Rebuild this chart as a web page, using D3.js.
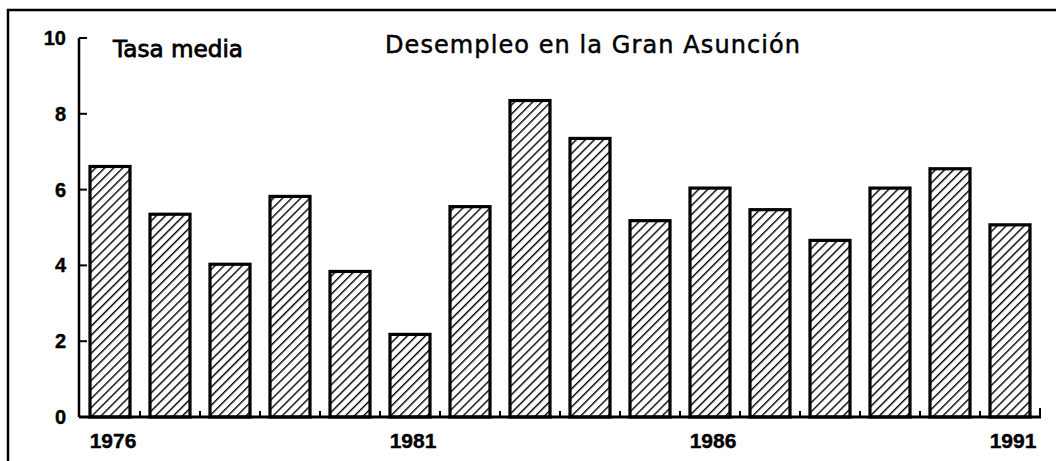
<!doctype html>
<html>
  <head>
    <meta charset="utf-8">
    <title>Desempleo en la Gran Asunción</title>
    <script src="https://cdnjs.cloudflare.com/ajax/libs/d3/7.8.5/d3.min.js"></script>
    <style>
      body { margin: 0; background: #fff; }
      text { font-family: "Liberation Sans", Arial, sans-serif; fill: #000; }
      text.head { font-family: "DejaVu Sans", sans-serif; }
    </style>
  </head>
  <body>
    <div id="chart"></div>
    <script>

      // data
      const years = ['1976','1977','1978','1979','1980','1981','1982','1983',
                     '1984','1985','1986','1987','1988','1989','1990','1991'];
      const rates = [6.61, 5.35, 4.03, 5.82, 3.84, 2.18, 5.55, 8.35,
                     7.35, 5.18, 6.04, 5.47, 4.66, 6.04, 6.55, 5.07];
      const yTicks = [0, 2, 4, 6, 8, 10];
      const yearLabels = ['1976', '1981', '1986', '1991'];

      const W = 1056, H = 461;

      const svg = d3.select('#chart')
        .append('svg')
        .attr('width', W)
        .attr('height', H);

      // hatch fill
      const defs = svg.append('defs');
      defs.append('pattern')
        .attr('id', 'hatch')
        .attr('patternUnits', 'userSpaceOnUse')
        .attr('width', 6.4)
        .attr('height', 6.4)
        .attr('patternTransform', 'rotate(45)')
        .append('line')
          .attr('x1', 0).attr('y1', 0)
          .attr('x2', 0).attr('y2', 6.4)
          .attr('stroke', '#000')
          .attr('stroke-width', 2.8);

      // outer frame (top + left only)
      svg.append('path')
        .attr('d', 'M8,461 L8,10 L1056,10')
        .attr('fill', 'none')
        .attr('stroke', '#000')
        .attr('stroke-width', 2.5);

      const x = d3.scaleBand()
        .domain(years)
        .range([80, 1040])
        .paddingInner(1/3)
        .paddingOuter(1/6);

      const y = d3.scaleLinear()
        .domain([0, 10])
        .range([417, 38]);

      // bars
      svg.selectAll('rect.bar')
        .data(rates)
        .join('rect')
          .attr('class', 'bar')
          .attr('x', (d, i) => x(years[i]))
          .attr('y', d => y(d))
          .attr('width', x.bandwidth())
          .attr('height', d => y(0) - y(d))
          .attr('fill', 'url(#hatch)')
          .attr('stroke', '#000')
          .attr('stroke-width', 3.2);

      // y axis
      const x0 = 79;
      svg.append('line')
        .attr('x1', x0).attr('x2', x0)
        .attr('y1', y(10)).attr('y2', y(0))
        .attr('stroke', '#000').attr('stroke-width', 2.5);

      svg.selectAll('line.ytick')
        .data(yTicks)
        .join('line')
          .attr('class', 'ytick')
          .attr('x1', x0).attr('x2', x0 + 8)
          .attr('y1', d => y(d)).attr('y2', d => y(d))
          .attr('stroke', '#000').attr('stroke-width', 2);

      svg.selectAll('text.ylab')
        .data(yTicks)
        .join('text')
          .attr('class', 'ylab')
          .attr('x', 66)
          .attr('y', d => y(d) + 7)
          .attr('text-anchor', 'end')
          .attr('font-size', 20)
          .attr('font-weight', 'bold')
          .attr('stroke', '#000')
          .attr('stroke-width', 0.4)
          .text(d => d);

      // x axis
      svg.append('line')
        .attr('x1', x0).attr('x2', 1041)
        .attr('y1', y(0)).attr('y2', y(0))
        .attr('stroke', '#000').attr('stroke-width', 3);

      const bounds = d3.range(1, years.length + 1).map(i => x.range()[0] + i * x.step());
      svg.selectAll('line.xtick')
        .data(bounds)
        .join('line')
          .attr('class', 'xtick')
          .attr('x1', d => d).attr('x2', d => d)
          .attr('y1', y(0))
          .attr('y2', (d, i) => i === bounds.length - 1 ? y(0) - 9 : y(0) - 6)
          .attr('stroke', '#000').attr('stroke-width', 2);

      svg.selectAll('text.xlab')
        .data(yearLabels)
        .join('text')
          .attr('class', 'xlab')
          .attr('x', d => x(d) + x.bandwidth() / 2 + 3)
          .attr('y', 448)
          .attr('text-anchor', 'middle')
          .attr('font-size', 21)
          .attr('font-weight', 'bold')
          .attr('stroke', '#000')
          .attr('stroke-width', 0.4)
          .text(d => d);

      // texts
      svg.append('text')
        .attr('class', 'head')
        .attr('x', 113)
        .attr('y', 57)
        .attr('font-size', 23)
        .attr('stroke', '#000')
        .attr('stroke-width', 0.8)
        .attr('textLength', 130)
        .attr('lengthAdjust', 'spacingAndGlyphs')
        .text('Tasa media');

      svg.append('text')
        .attr('class', 'head')
        .attr('x', 385)
        .attr('y', 53)
        .attr('font-size', 24)
        .attr('stroke', '#000')
        .attr('stroke-width', 0.5)
        .attr('textLength', 415)
        .attr('lengthAdjust', 'spacing')
        .text('Desempleo en la Gran Asunción');

    </script>
  </body>
</html>
